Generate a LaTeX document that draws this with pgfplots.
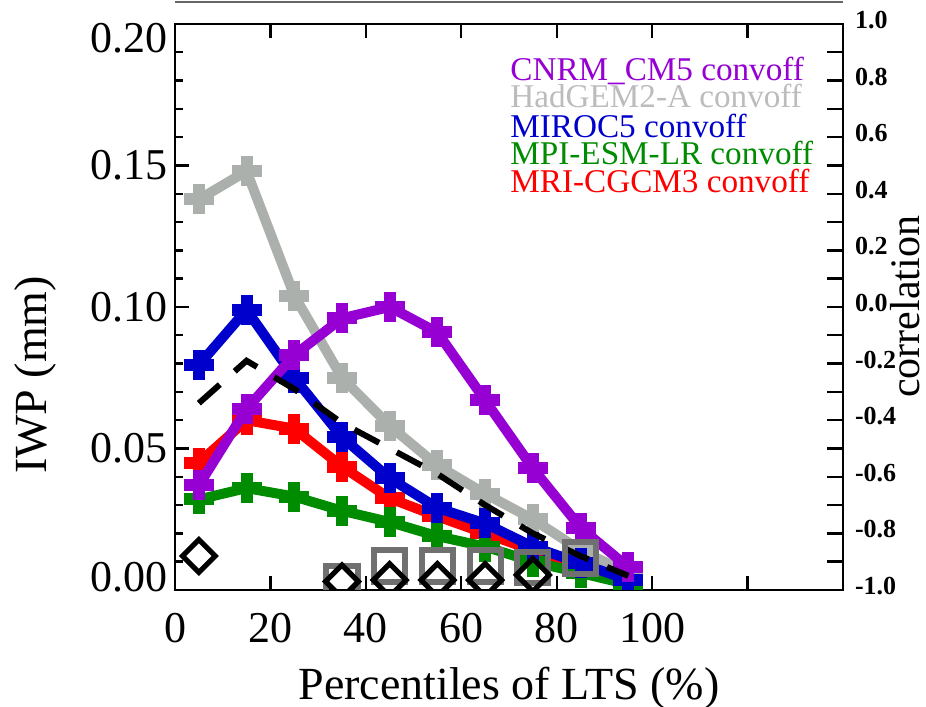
\documentclass[border=0pt]{standalone}
\usepackage{pgfplots}
\pgfplotsset{compat=1.18}
\usepackage{fontspec}
\setmainfont{Liberation Serif}
\definecolor{cnrm}{RGB}{150,0,210}
\definecolor{hadgem}{RGB}{172,176,172}
\definecolor{hadtext}{RGB}{188,188,188}
\definecolor{miroc}{RGB}{0,0,205}
\definecolor{mpi}{RGB}{0,140,0}
\definecolor{mri}{RGB}{255,0,0}
\definecolor{sqgray}{RGB}{112,112,112}
\pgfplotsset{
  model/.style={line width=5pt, mark=+, mark size=7.5pt, mark options={line width=6pt, solid}},
}
\tikzset{legtext/.style={anchor=base west, inner sep=0pt, font=\fontsize{16.6}{16.6}\selectfont}}
\begin{document}
\begin{tikzpicture}
\begin{axis}[
  scale only axis, width=334pt, height=283pt,
  xmin=0, xmax=140, ymin=0, ymax=0.2,
  xtick={0,20,40,60,80,100,120,140},
  xticklabels={0,20,40,60,80,100,,},
  ytick={0,0.05,0.10,0.15,0.20},
  yticklabels={,0.05,0.10,0.15,},
  minor ytick={0.01,0.02,0.03,0.04,0.06,0.07,0.08,0.09,0.11,0.12,0.13,0.14,0.16,0.17,0.18,0.19},
  extra y ticks={0.0046,0.195},
  extra y tick labels={0.00,0.20},
  extra y tick style={major tick length=0pt},
  ytick pos=left, xtick pos=both,
  tick align=inside,
  major tick length=7pt, minor tick length=4pt,
  tick label style={font=\fontsize{22}{22}\selectfont},
  xticklabel style={yshift=-8pt},
  label style={font=\fontsize{23}{23}\selectfont},
  xlabel={Percentiles of LTS (\%)},
  ylabel={IWP (mm)},
  xlabel style={at={(axis description cs:0.5,-0.1943)}, anchor=base},
  ylabel style={at={(axis description cs:-0.2096,0.38)}, anchor=center},
  axis line style={line width=1.2pt},
  tick style={line width=1.2pt, black},
  clip marker paths=true,
]
\addplot[model, hadgem] coordinates {(5,0.138)(15,0.148)(25,0.104)(35,0.075)(45,0.058)(55,0.044)(65,0.034)(75,0.025)(85,0.014)(95,0.006)};
\addplot[model, mri] coordinates {(5,0.045)(15,0.060)(25,0.057)(35,0.0436)(45,0.0324)(55,0.026)(65,0.020)(75,0.014)(85,0.007)(95,0.002)};
\addplot[model, mpi] coordinates {(5,0.032)(15,0.036)(25,0.033)(35,0.028)(45,0.024)(55,0.019)(65,0.0153)(75,0.010)(85,0.006)(95,0.002)};
\addplot[model, miroc] coordinates {(5,0.0795)(15,0.099)(25,0.075)(35,0.054)(45,0.0395)(55,0.029)(65,0.0235)(75,0.0153)(85,0.0094)(95,0.0035)};
\addplot[model, cnrm] coordinates {(5,0.037)(15,0.064)(25,0.083)(35,0.096)(45,0.100)(55,0.091)(65,0.067)(75,0.043)(85,0.022)(95,0.008)};
\addplot[black, line width=3pt, dash pattern=on 14pt off 10pt, no marks] coordinates {(5,0.066)(15,0.081)(25,0.071)(35,0.059)(45,0.050)(55,0.041)(65,0.030)(75,0.020)(85,0.012)(95,0.005)};
\addplot[only marks, mark=square, mark size=7.8pt, mark options={draw=sqgray, line width=3pt, fill=none}] coordinates {(35,0.003)(45,0.0085)(55,0.0085)(65,0.0085)(75,0.008)(85,0.0113)};
\addplot[only marks, mark=square, mark size=5.8pt, mark options={draw=black, line width=2.6pt, fill=none, rotate=45}] coordinates {(5,0.012)(35,0.003)(45,0.0035)(55,0.0035)(65,0.0035)(75,0.0053)};
\end{axis}
\begin{axis}[
  scale only axis, width=334pt, height=283pt,
  xmin=0, xmax=140, ymin=-1, ymax=1,
  axis y line*=right, hide x axis,
  ytick={-1,-0.8,-0.6,-0.4,-0.2,0,0.2,0.4,0.6,0.8,1},
  yticklabels={-1.0,-0.8,-0.6,-0.4,-0.2,0.0,0.2,0.4,0.6,0.8,1.0},
  minor ytick={-0.9,-0.7,-0.5,-0.3,-0.1,0.1,0.3,0.5,0.7,0.9},
  tick align=inside, major tick length=8pt, minor tick length=8pt,
  yticklabel style={font=\bfseries\fontsize{13}{13}\selectfont, yshift=2pt, xshift=2.5pt},
  ylabel={correlation},
  ylabel style={font=\fontsize{21}{21}\selectfont, at={(axis description cs:1.0925,0.5)}, anchor=center},
  axis line style={line width=1.4pt},
  tick style={line width=1.2pt, black},
  clip=false,
]
\node[legtext, text=cnrm] at (rel axis cs:0.5015,0.901) {CNRM\_CM5 convoff};
\node[legtext, text=hadtext] at (rel axis cs:0.5015,0.852) {HadGEM2-A convoff};
\node[legtext, text=miroc] at (rel axis cs:0.5015,0.800) {MIROC5 convoff};
\node[legtext, text=mpi] at (rel axis cs:0.5015,0.751) {MPI-ESM-LR convoff};
\node[legtext, text=mri] at (rel axis cs:0.5015,0.703) {MRI-CGCM3 convoff};
\draw[line width=1pt, black!60] (rel axis cs:0,1.0389) -- (rel axis cs:1,1.0389);
\coordinate (bl) at (rel axis cs:-0.262,-0.2067);
\coordinate (tr) at (rel axis cs:1.1243,1.0424);
\end{axis}
\pgfresetboundingbox
\useasboundingbox (bl) rectangle (tr);
\end{tikzpicture}
\end{document}
